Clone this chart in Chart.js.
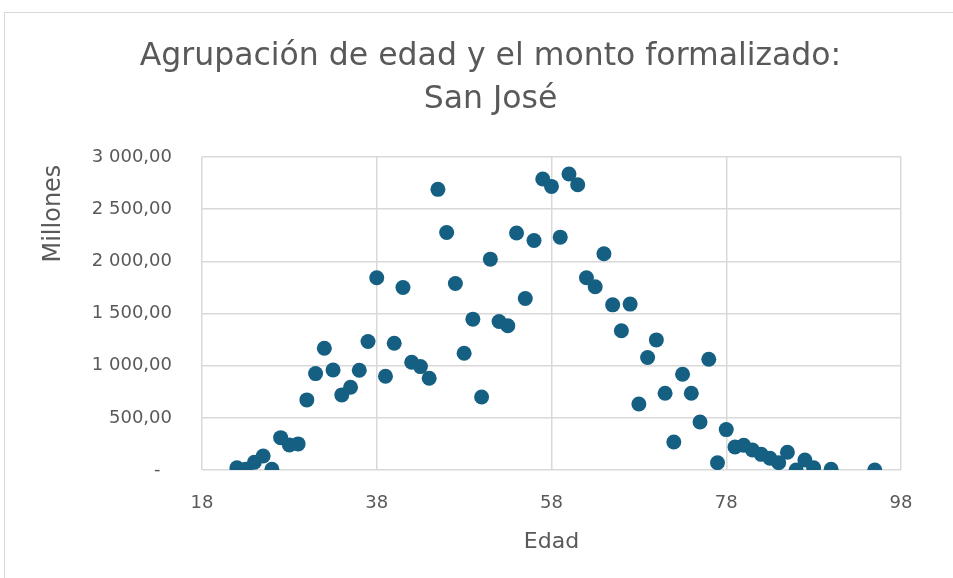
<!DOCTYPE html>
<html>
<head>
<meta charset="utf-8">
<script src="https://cdn.jsdelivr.net/npm/chart.js@4.4.1/dist/chart.umd.min.js"></script>
<style>
  html, body { margin: 0; padding: 0; background: #fff; overflow: hidden; width: 953px; height: 578px; }
  .edge { position: absolute; background: #d9d9d9; }
  #edgeTop { left: 4px; top: 12px; width: 949px; height: 1px; }
  #edgeLeft { left: 4px; top: 12px; width: 1px; height: 566px; }
  #wrap { position: absolute; left: 0; top: 0; width: 953px; height: 578px; }
</style>
</head>
<body>
<div class="edge" id="edgeTop"></div>
<div class="edge" id="edgeLeft"></div>
<div id="wrap"><canvas id="scatterChart"></canvas></div>
<script>
// Edad (x) y monto formalizado en millones (y)
const edades = [22, 23, 24, 25, 26, 27, 28, 29, 30, 31, 32, 33, 34, 35, 36, 37, 38, 39, 40, 41,
                42, 43, 44, 45, 46, 47, 48, 49, 50, 51, 52, 53, 54, 55, 56, 57, 58, 59, 60, 61,
                62, 63, 64, 65, 66, 67, 68, 69, 70, 71, 72, 73, 74, 75, 76, 77, 78, 79, 80, 81,
                82, 83, 84, 85, 86, 87, 88, 90, 95];
const montos = [22, 7, 74, 134, 7, 310, 240, 250, 672, 924, 1167, 959, 720, 793, 956, 1231, 1842, 899, 1215, 1749,
                1033, 991, 879, 2690, 2277, 1788, 1119, 1446, 700, 2021, 1423, 1382, 2271, 1644, 2200, 2789, 2718, 2232, 2837, 2734,
                1842, 1756, 2072, 1583, 1334, 1590, 633, 1078, 1247, 736, 269, 918, 736, 460, 1062, 70, 387, 221, 237, 192,
                150, 112, 70, 170, 0, 96, 22, 7, 0];
const xTicks = [18, 38, 58, 78, 98];
const yTicks = [0, 500, 1000, 1500, 2000, 2500, 3000];

const textColor = '#595959';
const gridColor = '#d9d9d9';
const fontFam = "'DejaVu Sans', sans-serif";

function formatMillones(v) {
    if (v === 0) return '-  ';
    const miles = Math.floor(v / 1000);
    const resto = v % 1000;
    if (miles > 0) return miles + ' ' + String(resto).padStart(3, '0') + ',00';
    return resto + ',00';
}

const points = edades.map((e, i) => ({ x: e, y: montos[i] }));

new Chart(document.getElementById('scatterChart'), {
    type: 'scatter',
    data: {
        datasets: [{
            label: 'Monto',
            data: points,
            backgroundColor: '#156082',
            borderWidth: 0,
            pointRadius: 7.5,
            pointHoverRadius: 7.5
        }]
    },
    options: {
        responsive: true,
        maintainAspectRatio: false,
        animation: false,
        layout: { padding: { left: 30, right: 2, top: 0, bottom: 0 } },
        plugins: {
            legend: { display: false },
            tooltip: { enabled: false },
            title: {
                display: true,
                text: ['Agrupación de edad y el monto formalizado:', 'San José'],
                color: textColor,
                font: { family: fontFam, size: 31.5, weight: 'normal', lineHeight: '43px' },
                padding: { top: 35, bottom: 36 }
            }
        },
        scales: {
            x: {
                type: 'linear',
                min: 18,
                max: 98,
                afterBuildTicks: s => { s.ticks = xTicks.map(v => ({ value: v })); },
                afterFit: s => { s.height = 108; },
                grid: { color: gridColor, lineWidth: 1.5, drawTicks: false },
                border: { display: false },
                ticks: { color: textColor, font: { family: fontFam, size: 18 }, padding: 23 },
                title: {
                    display: true,
                    text: 'Edad',
                    color: textColor,
                    font: { family: fontFam, size: 22 },
                    padding: { top: 0, bottom: 23 }
                }
            },
            y: {
                min: 0,
                max: 3000,
                afterBuildTicks: s => { s.ticks = yTicks.map(v => ({ value: v })); },
                afterFit: s => { s.width = 172; },
                grid: { color: gridColor, lineWidth: 1.5, drawTicks: false },
                border: { display: false },
                ticks: { color: textColor, font: { family: fontFam, size: 18 }, padding: 30,
                         callback: v => formatMillones(v) },
                title: {
                    display: true,
                    text: 'Millones ',
                    align: 'end',
                    color: textColor,
                    font: { family: fontFam, size: 24 },
                    padding: { top: 9, bottom: 0 }
                }
            },
            y2: {
                type: 'linear',
                position: 'right',
                afterFit: s => { s.width = 50; },
                grid: { display: false, drawTicks: false },
                border: { display: false },
                ticks: { display: false }
            }
        }
    }
});
</script>
</body>
</html>
